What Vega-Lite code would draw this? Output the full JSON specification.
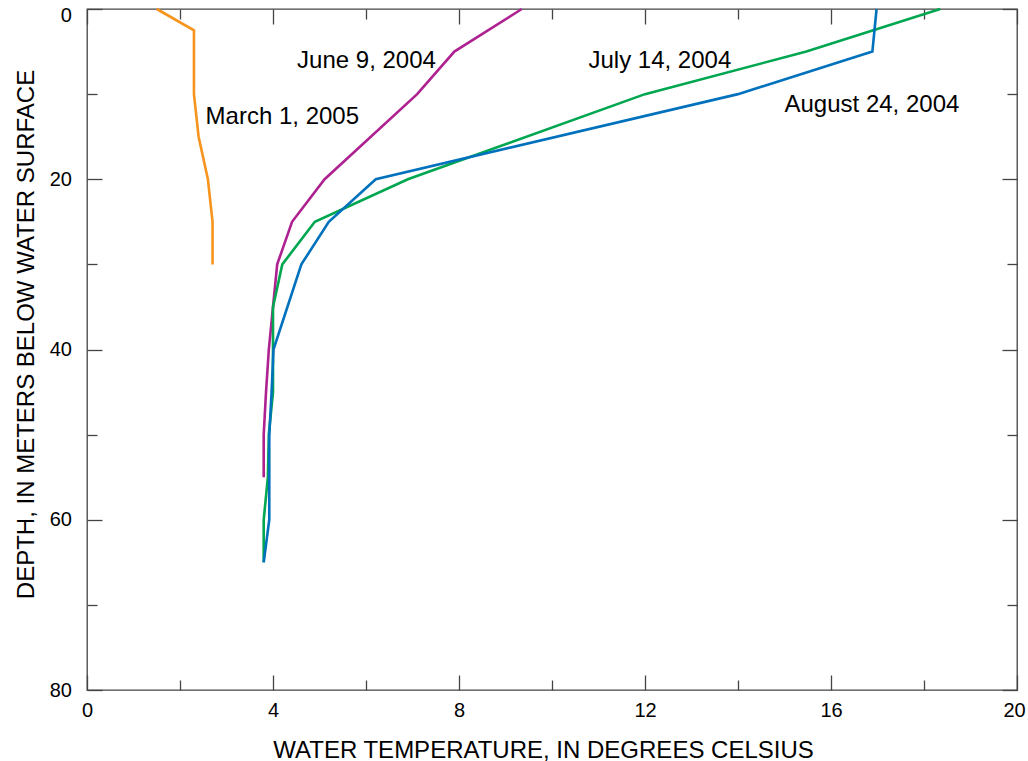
{
  "$schema": "https://vega.github.io/schema/vega-lite/v6.json",
  "autosize": {"type": "none"},
  "padding": {"left": 87, "top": 9, "right": 11, "bottom": 71},
  "width": 930,
  "height": 681,
  "background": "white",
  "config": {
    "view": {"stroke": "#444444", "strokeWidth": 1.3},
    "font": "Liberation Sans",
    "axis": {"grid": false, "domain": false, "tickColor": "#444444", "tickWidth": 1.3, "labelFont": "Liberation Sans", "titleFont": "Liberation Sans", "labelColor": "black", "titleColor": "black"}
  },
  "datasets": {
    "profiles": [
      {"date": "March 1, 2005", "temp": 1.5, "depth": 0},
      {"date": "March 1, 2005", "temp": 2.3, "depth": 2.5},
      {"date": "March 1, 2005", "temp": 2.3, "depth": 10},
      {"date": "March 1, 2005", "temp": 2.4, "depth": 15},
      {"date": "March 1, 2005", "temp": 2.6, "depth": 20},
      {"date": "March 1, 2005", "temp": 2.7, "depth": 25},
      {"date": "March 1, 2005", "temp": 2.7, "depth": 30},
      {"date": "June 9, 2004", "temp": 9.35, "depth": 0},
      {"date": "June 9, 2004", "temp": 7.9, "depth": 5},
      {"date": "June 9, 2004", "temp": 7.1, "depth": 10},
      {"date": "June 9, 2004", "temp": 5.11, "depth": 20},
      {"date": "June 9, 2004", "temp": 4.41, "depth": 25},
      {"date": "June 9, 2004", "temp": 4.09, "depth": 30},
      {"date": "June 9, 2004", "temp": 3.91, "depth": 40},
      {"date": "June 9, 2004", "temp": 3.85, "depth": 45},
      {"date": "June 9, 2004", "temp": 3.8, "depth": 50},
      {"date": "June 9, 2004", "temp": 3.8, "depth": 55},
      {"date": "July 14, 2004", "temp": 18.35, "depth": 0},
      {"date": "July 14, 2004", "temp": 15.47, "depth": 5},
      {"date": "July 14, 2004", "temp": 12.0, "depth": 10},
      {"date": "July 14, 2004", "temp": 6.9, "depth": 20},
      {"date": "July 14, 2004", "temp": 4.9, "depth": 25},
      {"date": "July 14, 2004", "temp": 4.2, "depth": 30},
      {"date": "July 14, 2004", "temp": 4.0, "depth": 35},
      {"date": "July 14, 2004", "temp": 4.0, "depth": 45},
      {"date": "July 14, 2004", "temp": 3.91, "depth": 50},
      {"date": "July 14, 2004", "temp": 3.89, "depth": 55},
      {"date": "July 14, 2004", "temp": 3.8, "depth": 60},
      {"date": "July 14, 2004", "temp": 3.8, "depth": 65},
      {"date": "August 24, 2004", "temp": 16.98, "depth": 0},
      {"date": "August 24, 2004", "temp": 16.89, "depth": 5},
      {"date": "August 24, 2004", "temp": 14.0, "depth": 10},
      {"date": "August 24, 2004", "temp": 6.21, "depth": 20},
      {"date": "August 24, 2004", "temp": 5.2, "depth": 25},
      {"date": "August 24, 2004", "temp": 4.61, "depth": 30},
      {"date": "August 24, 2004", "temp": 4.01, "depth": 40},
      {"date": "August 24, 2004", "temp": 3.97, "depth": 45},
      {"date": "August 24, 2004", "temp": 3.92, "depth": 50},
      {"date": "August 24, 2004", "temp": 3.92, "depth": 60},
      {"date": "August 24, 2004", "temp": 3.8, "depth": 65}
    ],
    "labels": [
      {"label": "March 1, 2005", "temp": 4.2, "depth": 13.5},
      {"label": "June 9, 2004", "temp": 6.01, "depth": 6.93},
      {"label": "July 14, 2004", "temp": 12.32, "depth": 6.93},
      {"label": "August 24, 2004", "temp": 16.88, "depth": 12.1}
    ]
  },
  "resolve": {"axis": {"x": "independent", "y": "independent"}},
  "layer": [
    {
      "data": {"name": "profiles"},
      "mark": {"type": "line", "strokeWidth": 2.6, "strokeJoin": "miter", "strokeCap": "butt"},
      "encoding": {
        "x": {"field": "temp", "type": "quantitative",
              "scale": {"domain": [0, 20], "nice": false, "zero": false},
              "axis": {"orient": "bottom", "values": [0, 4, 8, 12, 16, 20], "ticks": false, "labelFontSize": 20, "labelPadding": 10, "labelFlush": false,
                       "labelOffset": {"condition": {"test": "datum.value === 20", "value": -3}, "value": 0},
                       "title": "WATER TEMPERATURE, IN DEGREES CELSIUS", "titleFontSize": 24, "titleFontWeight": "normal", "titleBaseline": "alphabetic", "titleX": 456, "titleY": 67}},
        "y": {"field": "depth", "type": "quantitative",
              "scale": {"domain": [0, 80], "nice": false, "zero": false, "reverse": true},
              "axis": {"orient": "left", "values": [0, 20, 40, 60, 80], "ticks": false, "labelFontSize": 20, "labelPadding": 15.6, "labelFlush": false,
                       "labelOffset": {"condition": {"test": "datum.value === 0", "value": 6}, "value": 0},
                       "title": "DEPTH, IN METERS BELOW WATER SURFACE", "titleFontSize": 24, "titleFontWeight": "normal", "titleBaseline": "alphabetic", "titleX": -54, "titleY": 325, "titleAngle": -90}},
        "color": {"field": "date", "type": "nominal",
                  "scale": {"domain": ["March 1, 2005", "June 9, 2004", "July 14, 2004", "August 24, 2004"], "range": ["#F7941D", "#AE2191", "#00A650", "#0071BC"]},
                  "legend": null},
        "order": {"field": "depth", "type": "quantitative"}
      }
    },
    {
      "data": {"name": "profiles"},
      "mark": {"type": "point", "opacity": 0},
      "encoding": {
        "x": {"field": "temp", "type": "quantitative", "axis": {"orient": "bottom", "values": [0, 4, 8, 12, 16, 20], "tickSize": -15, "labels": false, "title": null}},
        "y": {"field": "depth", "type": "quantitative", "axis": {"orient": "left", "values": [0, 20, 40, 60, 80], "tickSize": -15, "labels": false, "title": null}}
      }
    },
    {
      "data": {"name": "profiles"},
      "mark": {"type": "point", "opacity": 0},
      "encoding": {
        "x": {"field": "temp", "type": "quantitative", "axis": {"orient": "bottom", "values": [2, 6, 10, 14, 18], "tickSize": -10, "labels": false, "title": null}},
        "y": {"field": "depth", "type": "quantitative", "axis": {"orient": "left", "values": [10, 30, 50, 70], "tickSize": -10, "labels": false, "title": null}}
      }
    },
    {
      "data": {"name": "profiles"},
      "mark": {"type": "point", "opacity": 0},
      "encoding": {
        "x": {"field": "temp", "type": "quantitative", "axis": {"orient": "top", "values": [0, 4, 8, 12, 16, 20], "tickSize": -15, "labels": false, "title": null}},
        "y": {"field": "depth", "type": "quantitative", "axis": {"orient": "right", "values": [0, 20, 40, 60, 80], "tickSize": -15, "labels": false, "title": null}}
      }
    },
    {
      "data": {"name": "profiles"},
      "mark": {"type": "point", "opacity": 0},
      "encoding": {
        "x": {"field": "temp", "type": "quantitative", "axis": {"orient": "top", "values": [2, 6, 10, 14, 18], "tickSize": -10, "labels": false, "title": null}},
        "y": {"field": "depth", "type": "quantitative", "axis": {"orient": "right", "values": [10, 30, 50, 70], "tickSize": -10, "labels": false, "title": null}}
      }
    },
    {
      "data": {"name": "labels"},
      "mark": {"type": "text", "fontSize": 24, "font": "Liberation Sans", "align": "center", "baseline": "alphabetic", "color": "black"},
      "encoding": {
        "x": {"field": "temp", "type": "quantitative", "axis": null},
        "y": {"field": "depth", "type": "quantitative", "axis": null},
        "text": {"field": "label", "type": "nominal"}
      }
    }
  ]
}
